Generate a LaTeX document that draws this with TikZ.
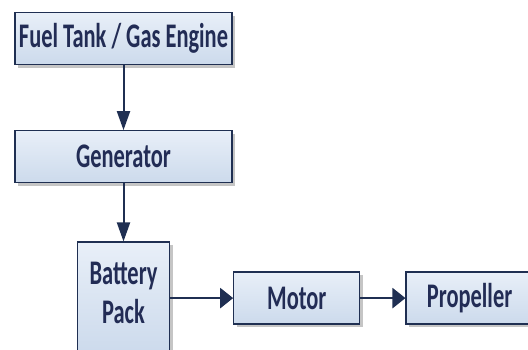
\documentclass[tikz,border=0pt]{standalone}
\usepackage{fontspec}
\newfontfamily\blockfont[FakeStretch=0.65]{Carlito}
\usepackage{tikz}
\usetikzlibrary{arrows.meta, positioning, shadows}

\definecolor{navy}{HTML}{1F2F52}
\definecolor{navytext}{HTML}{222C55}
\definecolor{boxtop}{HTML}{E8EFF8}
\definecolor{boxbot}{HTML}{CCDAEC}

\begin{document}
\begin{tikzpicture}[
    x=1pt, y=1pt,
    node distance=65pt and 63pt,
    base/.style={
        draw=navy,
        top color=boxtop,
        bottom color=boxbot,
        line width=1.3pt,
        align=center,
        inner sep=0pt,
        font=\blockfont\bfseries\fontsize{34.5}{39}\selectfont,
        text=navytext,
        drop shadow={shadow xshift=3pt, shadow yshift=-3pt, fill=black!45, opacity=0.5}
    },
    wide/.style={base, minimum width=217pt, minimum height=52pt},
    tall/.style={base, minimum width=92pt, minimum height=112pt, text depth=10pt},
    short/.style={base, minimum width=126pt, minimum height=52pt},
    vlink/.style={draw=navy, line width=2pt, -{Triangle[length=19pt, width=13pt]}},
    hlink/.style={draw=navy, line width=2.6pt, -{Triangle[length=13pt, width=20pt]}}
]

    % page frame (the source picture is cut at the bottom and right)
    \useasboundingbox (0,0) rectangle (528,-349);
    \clip (0,0) rectangle (528,-349);

    \node[wide] (fuel) at (123.5,-38.5) {Fuel Tank / Gas Engine};
    \node[wide, below=65pt of fuel] (gen) {Generator};
    \node[tall, below=58pt of gen] (battery) {Battery\\Pack};
    \node[short, right=63pt of battery] (motor) {Motor};
    \node[short, right=45pt of motor, minimum width=127pt] (prop) {Propeller};

    \draw[vlink] (fuel) -- (gen);
    \draw[vlink] (gen) -- (battery);
    \draw[hlink] (battery) -- (motor);
    \draw[hlink] (motor) -- (prop);

\end{tikzpicture}
\end{document}
